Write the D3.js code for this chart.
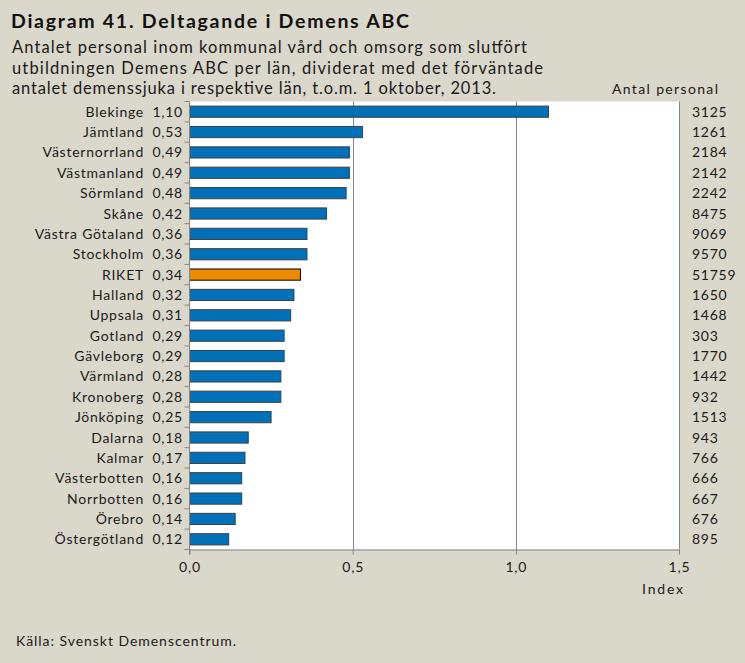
<!DOCTYPE html>
<html><head><meta charset="utf-8">
<script src="https://cdn.jsdelivr.net/npm/d3@7"></script>
<style>
html,body{margin:0;padding:0;background:#dad7cb;}
svg{display:block;font-family:"Lato","DejaVu Sans",sans-serif;}
</style></head>
<body>
<svg id="c" width="745" height="663"></svg>
<script>
const categories = ["Blekinge","Jämtland","Västernorrland","Västmanland","Sörmland","Skåne","Västra Götaland","Stockholm","RIKET","Halland","Uppsala","Gotland","Gävleborg","Värmland","Kronoberg","Jönköping","Dalarna","Kalmar","Västerbotten","Norrbotten","Örebro","Östergötland"];
const indexValues = [1.10,0.53,0.49,0.49,0.48,0.42,0.36,0.36,0.34,0.32,0.31,0.29,0.29,0.28,0.28,0.25,0.18,0.17,0.16,0.16,0.14,0.12];
const personal = [3125,1261,2184,2142,2242,8475,9069,9570,51759,1650,1468,303,1770,1442,932,1513,943,766,666,667,676,895];
const xTicks = [0,0.5,1.0,1.5];
const xTickLabels = ["0,0","0,5","1,0","1,5"];

const svg = d3.select("#c");
const W = 745, H = 663;
svg.append("rect").attr("width",W).attr("height",H).attr("fill","#dad7cb");

const x0 = 189.5, x1 = 679, yTop = 101.5, yBot = 549.5;
const x = d3.scaleLinear().domain([0,1.5]).range([x0,x1]);
const y = d3.scaleBand().domain(categories).range([yTop,yBot]).paddingInner(0.45).paddingOuter(0.225);

// plot area
svg.append("rect").attr("x",x0).attr("y",yTop).attr("width",x1-x0).attr("height",yBot-yTop).attr("fill","#ffffff");

// gridlines
svg.append("g").selectAll("line").data(xTicks.slice(1)).join("line")
  .attr("x1",d=>Math.round(x(d))+0.5).attr("x2",d=>Math.round(x(d))+0.5)
  .attr("y1",yTop).attr("y2",yBot).attr("stroke","#868686").attr("stroke-width",1);

// bars
svg.append("g").selectAll("rect").data(categories).join("rect")
  .attr("x",x(0)).attr("y",d=>y(d))
  .attr("width",(d,i)=>x(indexValues[i])-x(0))
  .attr("height",y.bandwidth())
  .attr("fill",d=>d==="RIKET"?"#ec8a00":"#0070b8")
  .attr("stroke",d=>d==="RIKET"?"#000000":"#404040")
  .attr("stroke-width",1);

// left axis with ticks between categories
const gl = svg.append("g");
gl.append("line").attr("x1",x0).attr("x2",x0).attr("y1",yTop).attr("y2",yBot+5).attr("stroke","#868686");
const step = (yBot-yTop)/categories.length;
d3.range(categories.length+1).forEach(i=>{
  gl.append("line").attr("x1",x0-5).attr("x2",x0).attr("y1",yTop+i*step).attr("y2",yTop+i*step).attr("stroke","#868686");
});

// bottom axis
const xAxis = d3.axisBottom(x).tickValues(xTicks).tickFormat((d,i)=>xTickLabels[i]).tickSize(5).tickPadding(8);
const gx = svg.append("g").attr("transform",`translate(0,${yBot})`).call(xAxis);
gx.select(".domain").attr("stroke","#868686").attr("d",`M${x0},0.5H${x1}`);
gx.selectAll(".tick line").attr("stroke","#868686");
gx.selectAll(".tick text").attr("font-size",14).attr("letter-spacing","0.8px").attr("fill","#1a1a1a").attr("font-family","Lato, DejaVu Sans, sans-serif");

// category labels & values
const lab = svg.append("g").attr("font-size",14).attr("fill","#1a1a1a").attr("letter-spacing","0.75px");
categories.forEach((c,i)=>{
  const cy = y(c)+y.bandwidth()/2+5;
  lab.append("text").attr("x",144).attr("y",cy).attr("text-anchor","end").text(c);
  lab.append("text").attr("x",183).attr("y",cy).attr("text-anchor","end").text(d3.format(".2f")(indexValues[i]).replace(".",","));
  lab.append("text").attr("x",692).attr("y",cy).attr("text-anchor","start").text(personal[i]);
});

// titles
function fixedText(str, xx, yy, size, len, bold){
  const t = svg.append("text").attr("x",xx).attr("y",yy).attr("font-size",size).attr("fill","#1a1a1a")
    .attr("textLength",len).attr("lengthAdjust","spacing").text(str);
  if(bold) t.attr("font-weight","bold").attr("fill","#111");
  return t;
}
fixedText("Diagram 41. Deltagande i Demens ABC",11,28,19.5,398,true);
const sub = ["Antalet personal inom kommunal vård och omsorg som slutfört","utbildningen Demens ABC per län, dividerat med det förväntade","antalet demenssjuka i respektive län, t.o.m. 1 oktober, 2013."];
const subLen = [515,531,484];
sub.forEach((s,i)=>fixedText(s,12,53+i*20.5,16.5,subLen[i],false));
fixedText("Antal personal",612,94,14,106,false);
fixedText("Index",642,594,14,41,false);
fixedText("Källa: Svenskt Demenscentrum.",16,646,14,220,false);
</script>
</body></html>
